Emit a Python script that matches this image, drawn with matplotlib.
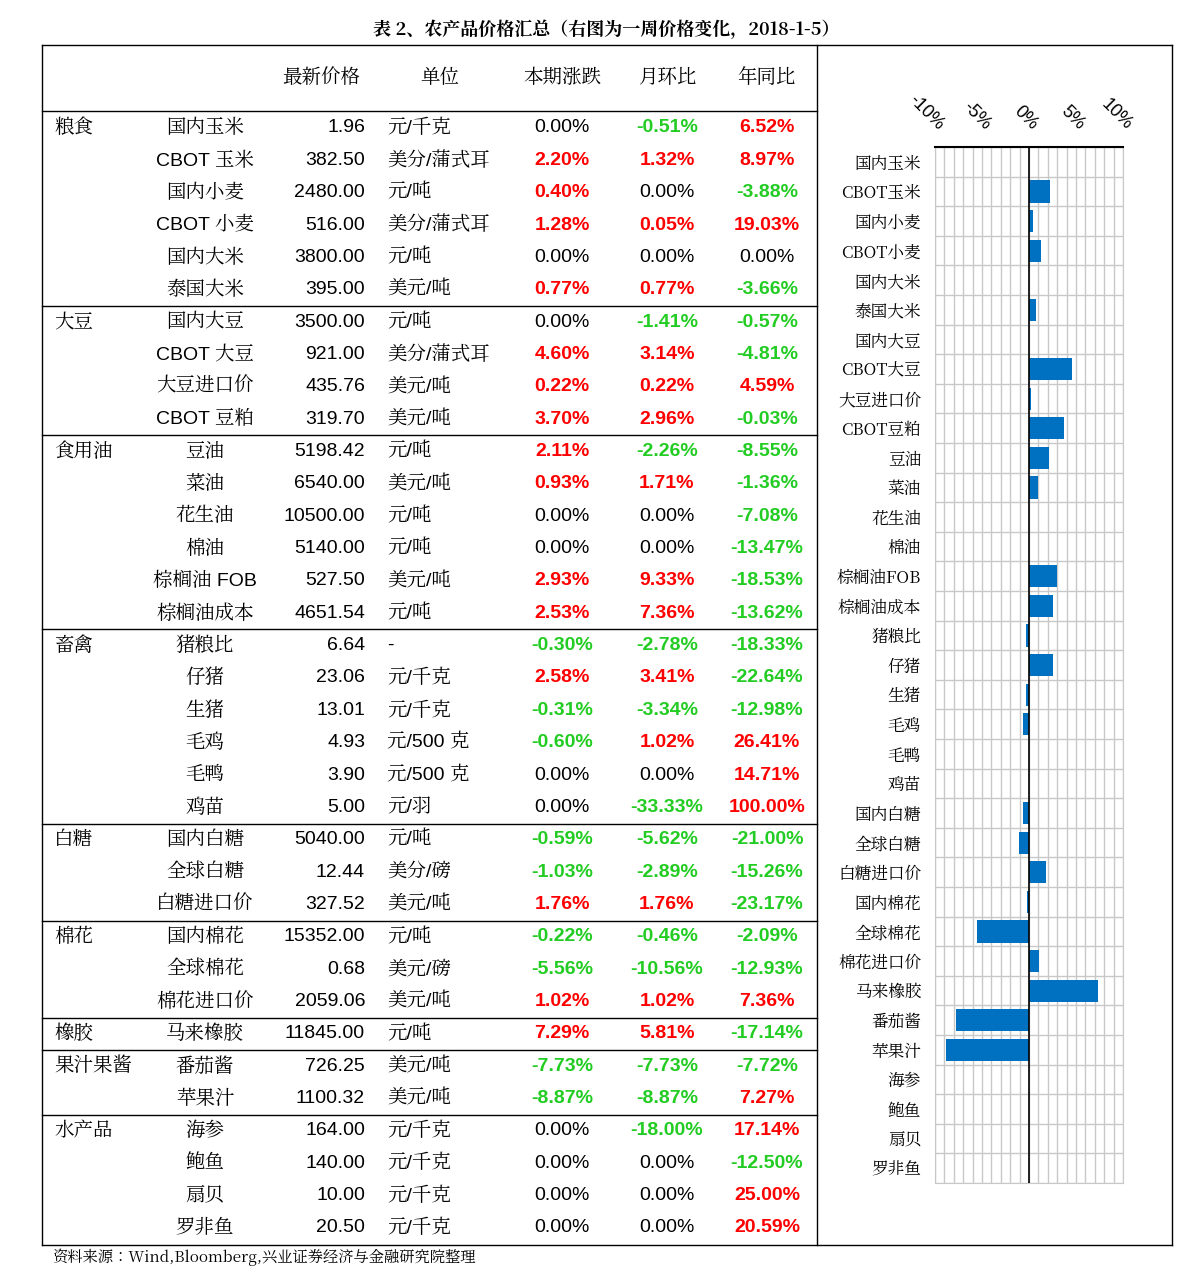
import matplotlib.pyplot as plt
from matplotlib import font_manager as fm
import numpy as np

cjk = [f.name for f in fm.fontManager.ttflist if 'CJK' in f.name]
CJK = 'Noto Sans CJK SC' if 'Noto Sans CJK SC' in cjk else (cjk[0] if cjk else 'DejaVu Sans')
plt.rcParams['font.family'] = ['Liberation Sans', CJK]

W, H = 1191, 1287

groups = ["粮食", "大豆", "食用油", "畜禽", "白糖", "棉花", "橡胶", "果汁果酱", "水产品"]
group_sizes = [6, 4, 6, 6, 3, 3, 1, 2, 4]
names = ["国内玉米", "CBOT 玉米", "国内小麦", "CBOT 小麦", "国内大米", "泰国大米",
         "国内大豆", "CBOT 大豆", "大豆进口价", "CBOT 豆粕",
         "豆油", "菜油", "花生油", "棉油", "棕榈油 FOB", "棕榈油成本",
         "猪粮比", "仔猪", "生猪", "毛鸡", "毛鸭", "鸡苗",
         "国内白糖", "全球白糖", "白糖进口价",
         "国内棉花", "全球棉花", "棉花进口价",
         "马来橡胶", "番茄酱", "苹果汁",
         "海参", "鲍鱼", "扇贝", "罗非鱼"]
prices = ["1.96", "382.50", "2480.00", "516.00", "3800.00", "395.00",
          "3500.00", "921.00", "435.76", "319.70",
          "5198.42", "6540.00", "10500.00", "5140.00", "527.50", "4651.54",
          "6.64", "23.06", "13.01", "4.93", "3.90", "5.00",
          "5040.00", "12.44", "327.52",
          "15352.00", "0.68", "2059.06",
          "11845.00", "726.25", "1100.32",
          "164.00", "140.00", "10.00", "20.50"]
units = ["元/千克", "美分/蒲式耳", "元/吨", "美分/蒲式耳", "元/吨", "美元/吨",
         "元/吨", "美分/蒲式耳", "美元/吨", "美元/吨",
         "元/吨", "美元/吨", "元/吨", "元/吨", "美元/吨", "元/吨",
         "-", "元/千克", "元/千克", "元/500 克", "元/500 克", "元/羽",
         "元/吨", "美分/磅", "美元/吨",
         "元/吨", "美元/磅", "美元/吨",
         "元/吨", "美元/吨", "美元/吨",
         "元/千克", "元/千克", "元/千克", "元/千克"]
week_chg = [0.00, 2.20, 0.40, 1.28, 0.00, 0.77,
            0.00, 4.60, 0.22, 3.70,
            2.11, 0.93, 0.00, 0.00, 2.93, 2.53,
            -0.30, 2.58, -0.31, -0.60, 0.00, 0.00,
            -0.59, -1.03, 1.76,
            -0.22, -5.56, 1.02,
            7.29, -7.73, -8.87,
            0.00, 0.00, 0.00, 0.00]
mom_chg = [-0.51, 1.32, 0.00, 0.05, 0.00, 0.77,
           -1.41, 3.14, 0.22, 2.96,
           -2.26, 1.71, 0.00, 0.00, 9.33, 7.36,
           -2.78, 3.41, -3.34, 1.02, 0.00, -33.33,
           -5.62, -2.89, 1.76,
           -0.46, -10.56, 1.02,
           5.81, -7.73, -8.87,
           -18.00, 0.00, 0.00, 0.00]
yoy_chg = [6.52, 8.97, -3.88, 19.03, 0.00, -3.66,
           -0.57, -4.81, 4.59, -0.03,
           -8.55, -1.36, -7.08, -13.47, -18.53, -13.62,
           -18.33, -22.64, -12.98, 26.41, 14.71, 100.00,
           -21.00, -15.26, -23.17,
           -2.09, -12.93, 7.36,
           -17.14, -7.72, 7.27,
           17.14, -12.50, 25.00, 20.59]
chart_names = [n.replace(" ", "") for n in names]
x_ticks = [-10, -5, 0, 5, 10]

RED, GREEN = "#FF0000", "#22CC22"

fig = plt.figure(figsize=(W / 100, H / 100), dpi=100)
bg = fig.add_axes([0, 0, 1, 1])
bg.set_xlim(0, W)
bg.set_ylim(H, 0)
bg.axis('off')

fs = 14
bg.text(606, 30, "表 2、农产品价格汇总（右图为一周价格变化，2018-1-5）", ha='center', va='center',
        fontsize=13, fontweight='bold', family=CJK)
bg.text(52, 1257, "资料来源：Wind,Bloomberg,兴业证券经济与金融研究院整理", ha='left', va='center',
        fontsize=11, family=CJK)

# frame
lw = 1.0
bg.plot([42, 1172], [45, 45], color='k', lw=lw)
bg.plot([42, 1172], [1245, 1245], color='k', lw=lw)
bg.plot([42, 42], [45, 1245], color='k', lw=lw)
bg.plot([817, 817], [45, 1245], color='k', lw=lw)
bg.plot([1172, 1172], [45, 1245], color='k', lw=lw)
bg.plot([42, 817], [111, 111], color='k', lw=lw)

headers = ["最新价格", "单位", "本期涨跌", "月环比", "年同比"]
hx = [321, 440, 562, 667, 767]
for h, x in zip(headers, hx):
    bg.text(x, 78, h, ha='center', va='center', fontsize=fs, family=CJK)

row_h = (1228 - 128) / 34
def row_y(i):
    return 128 + i * row_h

def pct_style(v):
    if v > 0:
        return RED, 'bold'
    if v < 0:
        return GREEN, 'bold'
    return 'k', 'normal'

start = 0
for g, n in zip(groups, group_sizes):
    bg.text(54, row_y(start), g, ha='left', va='center', fontsize=fs, family=CJK)
    if start > 0:
        y = row_y(start) - row_h / 2
        bg.plot([42, 817], [y, y], color='k', lw=lw)
    start += n

for i in range(len(names)):
    y = row_y(i)
    bg.text(205, y, names[i], ha='center', va='center', fontsize=fs)
    bg.text(365, y, prices[i], ha='right', va='center', fontsize=fs)
    bg.text(387, y, units[i], ha='left', va='center', fontsize=fs)
    for v, x in zip([week_chg[i], mom_chg[i], yoy_chg[i]], hx[2:]):
        c, w = pct_style(v)
        bg.text(x, y, f"{v:.2f}%", ha='center', va='center', fontsize=fs, color=c, fontweight=w)

# bar chart
ax = fig.add_axes([935 / W, 1 - 1183 / H, (1123 - 935) / W, (1183 - 147) / H])
n = len(chart_names)
ypos = np.arange(n)
ax.barh(ypos, week_chg, height=0.75, color='#0070C0', zorder=3)
ax.set_xlim(-10, 10)
ax.set_ylim(n - 0.5, -0.5)
for xv in range(-10, 11):
    ax.axvline(xv, color='#C8C8C8', lw=1.0, zorder=1)
for yv in np.arange(-0.5, n, 1):
    ax.axhline(yv, color='#C8C8C8', lw=1.0, zorder=1)
ax.axvline(0, color='k', lw=1.2, zorder=4)
ax.set_yticks(ypos)
ax.set_yticklabels(chart_names, fontsize=12, family=CJK)
ax.xaxis.tick_top()
ax.set_xticks(x_ticks)
ax.set_xticklabels([f"{t}%" for t in x_ticks], rotation=-45, ha='right', fontsize=13,
                   rotation_mode='anchor')
ax.tick_params(length=0, pad=10)
for s in ['left', 'right', 'bottom']:
    ax.spines[s].set_color('#C8C8C8')
ax.spines['top'].set_color('k')
ax.spines['top'].set_linewidth(1.5)

fig.savefig("out.png", dpi=100)
